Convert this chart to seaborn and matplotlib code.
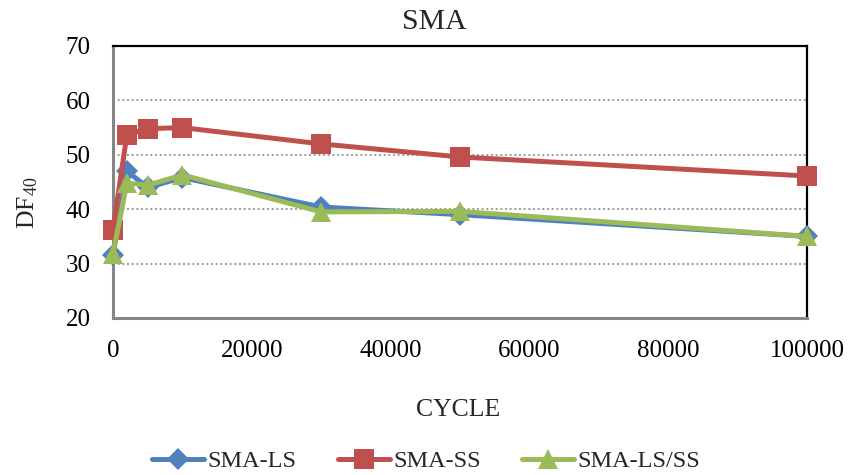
import matplotlib
matplotlib.use("Agg")
import matplotlib.pyplot as plt
import seaborn as sns
import pandas as pd

cycles = [0, 2000, 5000, 10000, 30000, 50000, 100000]
sma_ls = [31.5, 47.0, 44.0, 45.8, 40.4, 39.0, 35.0]
sma_ss = [36.2, 53.7, 54.8, 55.0, 52.0, 49.6, 46.1]
sma_ls_ss = [31.8, 44.8, 44.4, 46.3, 39.5, 39.6, 35.0]

series_names = ["SMA-LS", "SMA-SS", "SMA-LS/SS"]
series_values = [sma_ls, sma_ss, sma_ls_ss]
colors = ["#4F81BD", "#C0504D", "#9BBB59"]
markers = ["D", "s", "^"]
marker_sizes = [11, 14, 15]

x_ticks = [0, 20000, 40000, 60000, 80000, 100000]
y_ticks = [20, 30, 40, 50, 60, 70]

sns.set_theme(style="white")
plt.rcParams["font.family"] = ["Liberation Serif", "DejaVu Serif"]
plt.rcParams["mathtext.fontset"] = "custom"
plt.rcParams["mathtext.rm"] = "Liberation Serif"
plt.rcParams["mathtext.it"] = "Liberation Serif"

frames = []
for name, vals in zip(series_names, series_values):
    frames.append(pd.DataFrame({"CYCLE": cycles, "DF": vals, "series": name}))
df = pd.concat(frames, ignore_index=True)

fig = plt.figure(figsize=(8.5, 4.75), dpi=100)
ax = fig.add_axes([113 / 850, 1 - 318 / 475, (807 - 113) / 850, (318 - 46) / 475])

for name, col, mk, ms in zip(series_names, colors, markers, marker_sizes):
    sub = df[df["series"] == name]
    sns.lineplot(data=sub, x="CYCLE", y="DF", ax=ax, color=col, marker=mk,
                 markersize=ms, markeredgecolor=col, markeredgewidth=0,
                 linewidth=3.6, label=name, clip_on=False, zorder=3)

ax.set_xlim(0, 100000)
ax.set_ylim(20, 70)
ax.set_xticks(x_ticks)
ax.set_yticks(y_ticks)
ax.set_xticklabels([str(t) for t in x_ticks])
ax.set_yticklabels([str(t) for t in y_ticks])
ax.tick_params(axis="both", length=0, labelsize=18, colors="black")
ax.tick_params(axis="x", pad=16)
ax.tick_params(axis="y", pad=16)

for y in [30, 40, 50, 60]:
    ax.axhline(y, color="#8c8c8c", linestyle=(0, (1.2, 1.6)), linewidth=1.2, zorder=1)

ax.spines["left"].set_color("#868686")
ax.spines["bottom"].set_color("#868686")
ax.spines["left"].set_linewidth(2.2)
ax.spines["bottom"].set_linewidth(2.2)
ax.spines["top"].set_color("black")
ax.spines["right"].set_color("black")
ax.spines["top"].set_linewidth(1.6)
ax.spines["right"].set_linewidth(1.6)

ax.set_xlabel("")
ax.set_ylabel("")
fig.text(434 / 850, 1 - 22 / 475, "SMA", ha="center", va="center", fontsize=21.5)
fig.text(458 / 850, 1 - 410 / 475, "CYCLE", ha="center", va="center", fontsize=18.5)
fig.text(28 / 850, 1 - 203 / 475, r"DF$_{\mathregular{40}}$", ha="center", va="center",
         rotation=90, fontsize=18.5)

ax.get_legend().remove()
handles, labels = ax.get_legend_handles_labels()
fig.legend(handles, labels, loc="center", bbox_to_anchor=(426 / 850, 1 - 461 / 475),
           ncol=3, frameon=False, fontsize=17.5, handlelength=2.15,
           columnspacing=1.7, handletextpad=0.12, borderpad=0)

fig.savefig("out.png", dpi=100)
